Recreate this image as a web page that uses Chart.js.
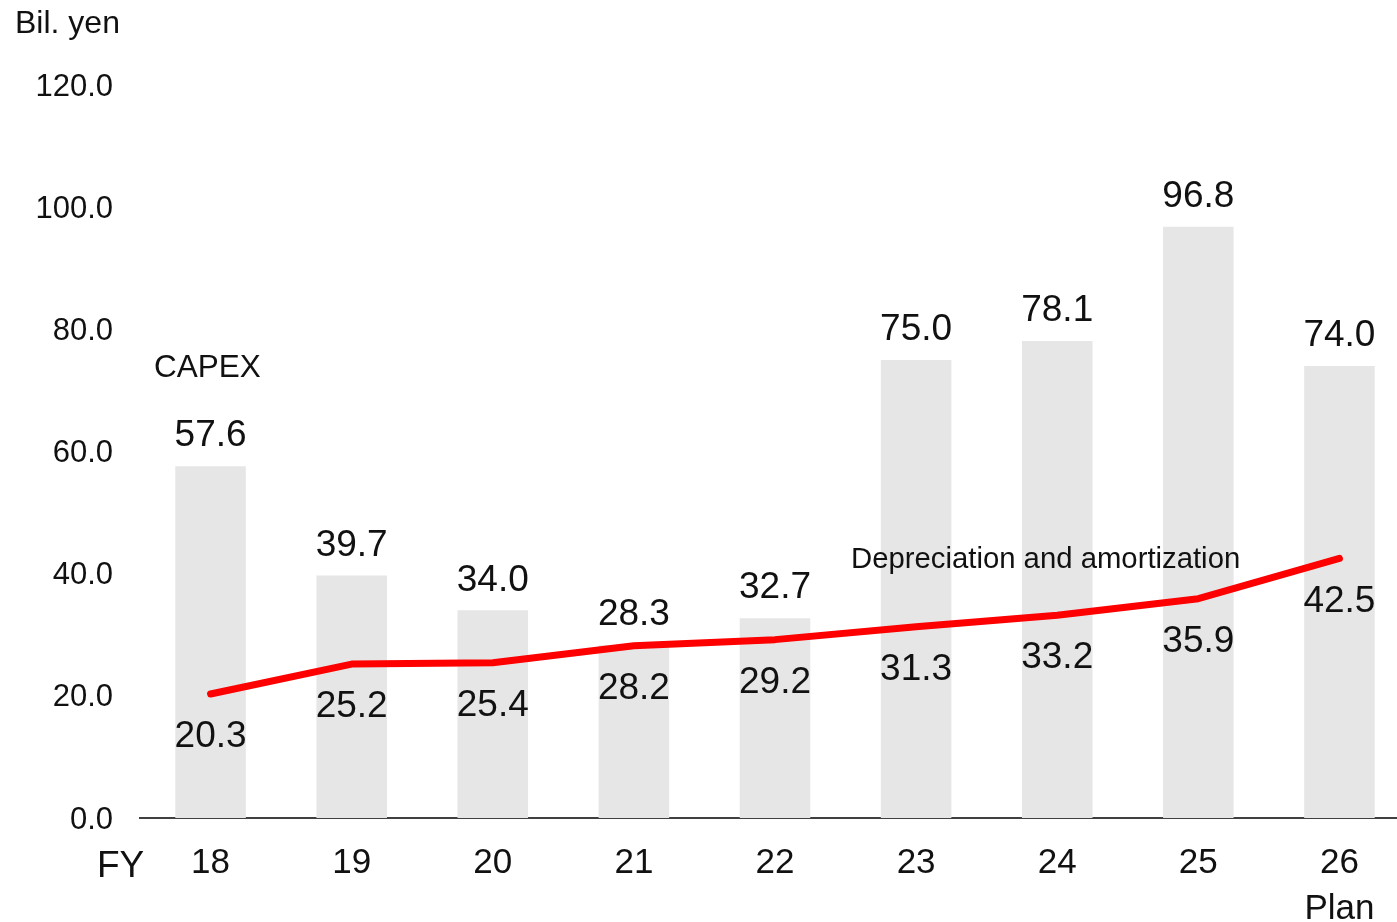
<!DOCTYPE html>
<html>
<head>
<meta charset="utf-8">
<title>CAPEX and Depreciation</title>
<script src="https://cdn.jsdelivr.net/npm/chart.js@4/dist/chart.umd.min.js"></script>
<style>
    html, body {
        margin: 0;
        padding: 0;
        background: #ffffff;
        overflow: hidden;
    }
    .chart-wrap {
        position: relative;
        width: 1410px;
        height: 922px;
    }
</style>
</head>
<body>
<div class="chart-wrap">
    <canvas id="capexChart"></canvas>
</div>
<script>
// Fiscal years and values (billions of yen)
const fiscalYears = [['18'], ['19'], ['20'], ['21'], ['22'], ['23'], ['24'], ['25'], ['26', 'Plan']];
const capex = [57.6, 39.7, 34.0, 28.3, 32.7, 75.0, 78.1, 96.8, 74.0];
const depreciation = [20.3, 25.2, 25.4, 28.2, 29.2, 31.3, 33.2, 35.9, 42.5];
const yTicks = [0, 20, 40, 60, 80, 100, 120];

const FONT = '"Liberation Sans", Arial, sans-serif';
const TEXT_COLOR = '#111111';

document.addEventListener('DOMContentLoaded', function() {
    const ctx = document.getElementById('capexChart').getContext('2d');

    // Value labels: above the bars, below the line points
    const valueLabels = {
        id: 'valueLabels',
        afterDatasetsDraw(chart) {
            const c = chart.ctx;
            c.save();
            c.font = '37px ' + FONT;
            c.fillStyle = TEXT_COLOR;
            c.textAlign = 'center';
            c.textBaseline = 'middle';

            chart.getDatasetMeta(1).data.forEach((bar, i) => {
                c.fillText(capex[i].toFixed(1), bar.x, bar.y - 30);
            });
            chart.getDatasetMeta(0).data.forEach((pt, i) => {
                c.fillText(depreciation[i].toFixed(1), pt.x, pt.y + 43);
            });
            c.restore();
        }
    };

    // Unit, series names and the FY marker
    const captions = {
        id: 'captions',
        afterDraw(chart) {
            const c = chart.ctx;
            c.save();
            c.fillStyle = TEXT_COLOR;
            c.textAlign = 'left';
            c.textBaseline = 'middle';

            c.font = '32px ' + FONT;
            c.fillText('Bil. yen', 15, 24);

            c.font = '31.5px ' + FONT;
            c.fillText('CAPEX', 154, 368);

            c.font = '29.3px ' + FONT;
            c.fillText('Depreciation and amortization', 851, 560);

            c.font = '37px ' + FONT;
            c.fillText('FY', 97, 867);
            c.restore();
        }
    };

    new Chart(ctx, {
        type: 'bar',
        data: {
            labels: fiscalYears,
            datasets: [
                {
                    type: 'line',
                    label: 'Depreciation and amortization',
                    data: depreciation,
                    borderColor: '#ff0000',
                    borderWidth: 7,
                    borderCapStyle: 'round',
                    borderJoinStyle: 'round',
                    pointRadius: 0,
                    tension: 0,
                    fill: false,
                    order: 0
                },
                {
                    label: 'CAPEX',
                    data: capex,
                    backgroundColor: '#e6e6e6',
                    barPercentage: 0.5,
                    categoryPercentage: 1.0,
                    order: 1
                }
            ]
        },
        options: {
            responsive: true,
            maintainAspectRatio: false,
            animation: false,
            layout: {
                padding: { top: 85, left: 0, right: 0, bottom: 0 }
            },
            plugins: {
                legend: { display: false },
                tooltip: { enabled: false }
            },
            scales: {
                x: {
                    grid: { display: false, drawTicks: false },
                    border: { display: true, color: '#404040', width: 2 },
                    ticks: {
                        color: TEXT_COLOR,
                        font: { family: FONT, size: 35, lineHeight: 1.32 },
                        padding: 22,
                        maxRotation: 0,
                        autoSkip: false
                    },
                    afterFit(scale) {
                        scale.height = 104;
                    }
                },
                y: {
                    min: 0,
                    max: 120,
                    afterBuildTicks(scale) {
                        scale.ticks = yTicks.map(v => ({ value: v }));
                    },
                    grid: { display: false, drawTicks: false },
                    border: { display: false },
                    ticks: {
                        color: TEXT_COLOR,
                        font: { family: FONT, size: 31 },
                        padding: 27,
                        labelOffset: 2,
                        callback: function(value) {
                            return Number(value).toFixed(1);
                        }
                    },
                    afterFit(scale) {
                        scale.width = 140;
                    }
                }
            }
        },
        plugins: [valueLabels, captions]
    });
});
</script>
</body>
</html>
